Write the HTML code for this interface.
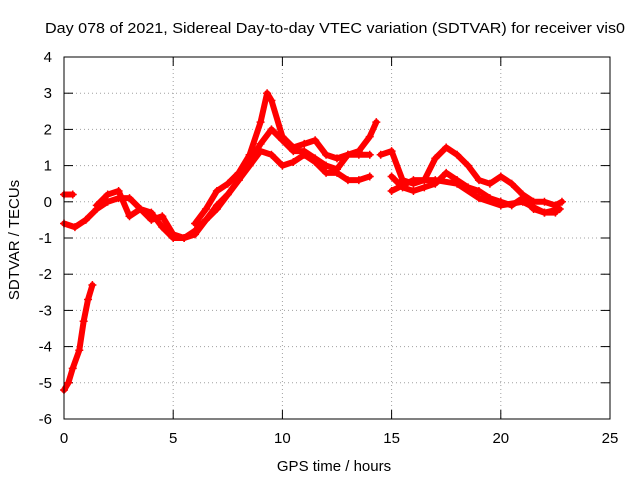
<!DOCTYPE html>
<html><head><meta charset="utf-8"><style>
body{margin:0;background:#fff}
svg{display:block;font-family:"Liberation Sans",sans-serif;font-size:15px}
</style></head><body>
<svg id="c" width="640" height="480">
<text x="45" y="33" textLength="580" lengthAdjust="spacingAndGlyphs">Day 078 of 2021, Sidereal Day-to-day VTEC variation (SDTVAR) for receiver vis0</text>
<text x="334" y="471" text-anchor="middle">GPS time / hours</text>
<text transform="translate(19,240) rotate(-90)" text-anchor="middle">SDTVAR / TECUs</text>
<g id="grid"></g><g id="ticks"></g><g id="marks"></g>
<rect x="64" y="57" width="546" height="362" fill="none" stroke="#000"/>
</svg>
<script>
const xTicks=[0,5,10,15,20,25];
const yTicks=[4,3,2,1,0,-1,-2,-3,-4,-5,-6];
const sEarlyX=[0,0.2,0.4,0.7,0.9,1.1,1.3];
const sEarlyY=[-5.2,-5.0,-4.6,-4.1,-3.3,-2.7,-2.3];
const sTopX=[0,0.4];
const sTopY=[0.2,0.2];
const sLowX=[0,0.5,1,1.5,2,2.5,3,3.5,4,4.5,5,5.5,6,6.5,7,7.5,8,8.5,9,9.5,10,10.5,11,11.5,12,12.5,13,13.5,14];
const sLowY=[-0.6,-0.7,-0.5,-0.2,0,0.1,0.1,-0.2,-0.3,-0.7,-1.0,-1.0,-0.9,-0.5,-0.1,0.2,0.6,1.0,1.4,1.3,1.0,1.1,1.3,1.1,0.8,0.8,0.6,0.6,0.7];
const sAltX=[1.5,2,2.5,3,3.5,4,4.5,5,5.5,6];
const sAltY=[-0.1,0.2,0.3,-0.4,-0.2,-0.5,-0.4,-0.9,-1.0,-0.8];
const sHighX=[6,6.5,7,7.5,8,8.5,9,9.3,9.5,10,10.5,11,11.5,12,12.5,13,13.5,14,14.3];
const sHighY=[-0.6,-0.2,0.3,0.5,0.8,1.3,2.2,3.0,2.8,1.8,1.5,1.6,1.7,1.3,1.2,1.3,1.4,1.8,2.2];
const sMidX=[6,7,8,8.5,9,9.5,10,10.5,11,11.5,12,12.5,13,13.5,14];
const sMidY=[-0.8,-0.2,0.6,1.1,1.6,2.0,1.7,1.4,1.4,1.2,1.0,0.9,1.3,1.3,1.3];
const sLate1X=[14.5,15,15.5,16,16.5,17,17.5,18,18.5,19,19.5,20,20.5,21,21.5,22,22.5,22.8];
const sLate1Y=[1.3,1.4,0.6,0.5,0.6,1.2,1.5,1.3,1.0,0.6,0.5,0.7,0.5,0.2,0.0,0.0,-0.1,0.0];
const sLate2X=[15,15.5,16,16.5,17,17.5,18,18.5,19,19.5,20,20.5,21,21.5,22,22.5];
const sLate2Y=[0.7,0.4,0.3,0.4,0.5,0.8,0.6,0.4,0.3,0.1,0.0,-0.1,0.1,-0.2,-0.3,-0.3];
const sLate3X=[15,16,17,18,19,20,21,22,22.7];
const sLate3Y=[0.3,0.6,0.6,0.5,0.1,-0.1,0.0,-0.3,-0.2];
const X=v=>64+v*546/25, Y=v=>57+(4-v)*362/10;
const NS="http://www.w3.org/2000/svg";
const mk=(p,t,a)=>{const e=document.createElementNS(NS,t);for(const k in a)e.setAttribute(k,a[k]);p.appendChild(e);return e;};
const grid=document.getElementById('grid'),ticks=document.getElementById('ticks'),marks=document.getElementById('marks');
xTicks.forEach(t=>{
 if(t>0&&t<25){const g=mk(grid,'line',{x1:X(t),x2:X(t),y1:57,y2:419,stroke:'#a0a0a0','stroke-dasharray':'1,3'});
 
 }
 mk(ticks,'line',{x1:X(t),x2:X(t),y1:419,y2:410,stroke:'#000'});
 mk(ticks,'line',{x1:X(t),x2:X(t),y1:57,y2:66,stroke:'#000'});
 const l=mk(ticks,'text',{x:X(t),y:443,'text-anchor':'middle'});l.textContent=t;
 
 
});
yTicks.forEach(t=>{
 if(t>-6&&t<4){const g=mk(grid,'line',{x1:64,x2:610,y1:Y(t),y2:Y(t),stroke:'#a0a0a0','stroke-dasharray':'1,3'});
 
 }
 mk(ticks,'line',{x1:64,x2:73,y1:Y(t),y2:Y(t),stroke:'#000'});
 mk(ticks,'line',{x1:601,x2:610,y1:Y(t),y2:Y(t),stroke:'#000'});
 const l=mk(ticks,'text',{x:52,y:Y(t)+5,'text-anchor':'end'});l.textContent=t;
 
 
});
const series=[[sEarlyX,sEarlyY],[sTopX,sTopY],[sLowX,sLowY],[sAltX,sAltY],[sHighX,sHighY],[sMidX,sMidY],[sLate1X,sLate1Y],[sLate2X,sLate2Y],[sLate3X,sLate3Y]];
series.forEach(([xs,ys])=>{
 const pts=xs.map((x,i)=>X(x)+','+Y(ys[i])).join(' ');
 const pl=mk(marks,'polyline',{points:pts,fill:'none',stroke:'#f00','stroke-width':6,'stroke-linejoin':'round','stroke-linecap':'round'});
 
 
 xs.forEach((x,i)=>{
  const p=mk(marks,'path',{d:`M${X(x)-4},${Y(ys[i])}h8M${X(x)},${Y(ys[i])-4}v8`,stroke:'#f00','stroke-width':1.5});
  
  
 });
});
</script>
</body></html>
